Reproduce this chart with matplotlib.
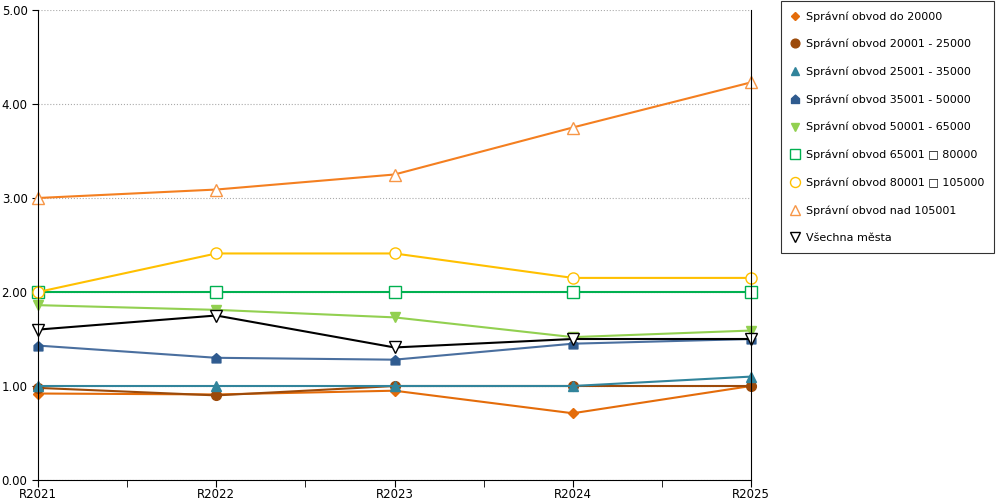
import matplotlib
matplotlib.use("Agg")
import matplotlib.pyplot as plt
from matplotlib.path import Path

years = ["R2021", "R2022", "R2023", "R2024", "R2025"]
names = [
    "Správní obvod do 20000",
    "Správní obvod 20001 - 25000",
    "Správní obvod 25001 - 35000",
    "Správní obvod 35001 - 50000",
    "Správní obvod 50001 - 65000",
    "Správní obvod 65001 □ 80000",
    "Správní obvod 80001 □ 105000",
    "Správní obvod nad 105001",
    "Všechna města",
]
do_20000 = [0.92, 0.91, 0.95, 0.71, 1.00]
s20_25 = [0.98, 0.90, 1.00, 1.00, 1.00]
s25_35 = [1.00, 1.00, 1.00, 1.00, 1.10]
s35_50 = [1.43, 1.30, 1.28, 1.45, 1.50]
s50_65 = [1.86, 1.81, 1.73, 1.52, 1.59]
s65_80 = [2.00, 2.00, 2.00, 2.00, 2.00]
s80_105 = [2.00, 2.41, 2.41, 2.15, 2.15]
nad_105 = [3.00, 3.09, 3.25, 3.75, 4.23]
vsechna = [1.60, 1.75, 1.41, 1.50, 1.50]

house = Path([(-1, -1), (1, -1), (1, 0.2), (0, 1.1), (-1, 0.2), (-1, -1)],
             [1, 2, 2, 2, 2, 79])

series = [
    (do_20000, "#e46c0a", "D", True, 5),
    (s20_25, "#9c4a0a", "o", True, 7),
    (s25_35, "#31849b", "^", True, 7),
    (s35_50, "#2f5b8f", house, True, 7),
    (s50_65, "#92d050", "v", True, 7),
    (s65_80, "#00b050", "s", False, 8),
    (s80_105, "#ffc000", "o", False, 8),
    (nad_105, "#f79646", "^", False, 8),
    (vsechna, "#000000", "v", False, 8),
]
colors_line = ["#e46c0a", "#9c4a0a", "#31849b", "#4a6f9f", "#92d050",
               "#00b050", "#ffc000", "#f47f20", "#000000"]

fig = plt.figure(figsize=(10, 5), dpi=100)
ax = fig.add_axes([0.038, 0.04, 0.713, 0.94])
x = list(range(len(years)))
for (vals, c, m, filled, ms), lc, name in zip(series, colors_line, names):
    ax.plot(x, vals, color=lc, lw=1.5, marker=m, markersize=ms,
            markerfacecolor=c if filled else "white", markeredgecolor=c,
            markeredgewidth=1, label=name, clip_on=False)

ax.set_xlim(0, 4)
ax.set_ylim(0, 5)
ax.set_xticks(x)
ax.set_xticklabels(years)
ax.set_xticks([0.5, 1.5, 2.5, 3.5], minor=True)
ax.set_yticks([0, 1, 2, 3, 4, 5])
ax.set_yticklabels(["%.2f" % v for v in [0, 1, 2, 3, 4, 5]])
ax.tick_params(labelsize=8.5, length=4, direction="out")
ax.tick_params(axis="x", which="both", length=5, pad=1)
ax.yaxis.grid(True, linestyle=":", color="#aaaaaa", lw=0.8)
ax.spines["top"].set_visible(False)
for s in ["left", "right", "bottom"]:
    ax.spines[s].set_color("black")
    ax.spines[s].set_linewidth(0.8)

leg = fig.legend(loc="upper left", bbox_to_anchor=(0.78, 1.0), fontsize=8,
                 frameon=True, fancybox=False, edgecolor="black",
                 labelspacing=1.55, handlelength=0.7, handletextpad=0.6,
                 borderpad=0.9, borderaxespad=0.1, markerscale=0.9)
leg.get_frame().set_linewidth(0.8)
for line in leg.get_lines():
    line.set_linestyle("")
fig.savefig("out.png")
